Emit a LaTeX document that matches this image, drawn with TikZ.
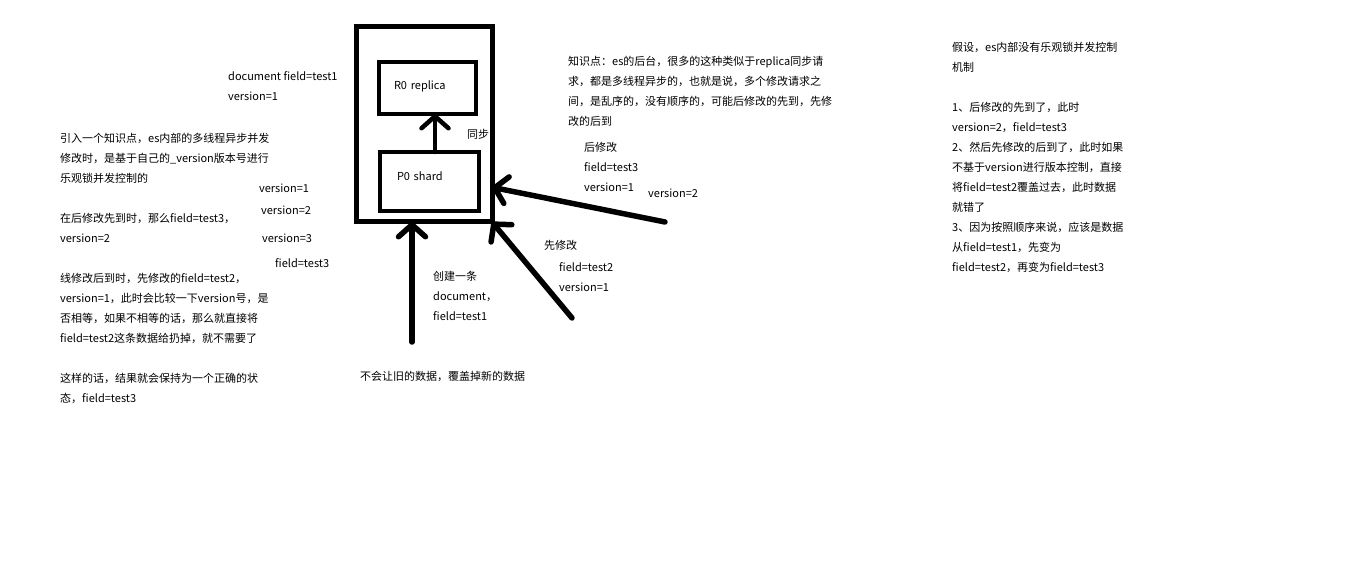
\documentclass[tikz,border=0pt]{standalone}
\usepackage{fontspec}
\setmainfont{Noto Sans CJK SC}
\usetikzlibrary{arrows.meta}

\begin{document}
\begin{tikzpicture}[x=1pt,y=-1pt,
  txt/.style={inner sep=0pt,align=left,font=\fontsize{11}{20}\selectfont},
  note/.style={txt,anchor=north west},
  word/.style={txt,anchor=base west},
  box/.style={draw,line width=4.5pt,outer sep=0pt,anchor=north west,align=left,font=\fontsize{11}{20}\selectfont},
  push/.style={line width=5.5pt,line cap=round,-{Straight Barb[length=12pt,width=27pt,round]}}]

  \useasboundingbox (0,0) rectangle (1360,561);

  \node[draw,line width=5pt,inner sep=0pt,outer sep=0pt,minimum width=135.5pt,minimum height=195.5pt,anchor=north west] (shard) at (356.5,26.5) {};
  \node[box,minimum height=52pt,inner xsep=15pt,text width=67pt,text depth=6.5pt] (r0) at (379,62) {R0 replica};
  \node[box,minimum height=59pt,inner xsep=17pt,text width=65pt,text depth=11pt] (p0) at (380,152) {P0 shard};

  \coordinate (sync up) at ([xshift=5.5pt]p0.north);
  \coordinate (create) at (412,342);
  \coordinate (first) at (572,318);
  \coordinate (second) at (665,222);

  \draw[push,line width=4.5pt] (sync up) -- (sync up |- r0.south);
  \draw[push] (create) -- (shard.south -| create);
  \draw[push] (first) -- (shard.south east);
  \draw[push] (second) -- ([yshift=-63pt]shard.east);

  \node[word] (sync) at (467,139) {同步};

  \node[note] (doc) at (228,71.5) {document field=test1\\version=1};
  \node[note] (intro) at (60,133.5) {引入一个知识点，es内部的多线程异步并发\\修改时，是基于自己的\_version版本号进行\\乐观锁并发控制的\\[20pt]在后修改先到时，那么field=test3，\\version=2\\[20pt]线修改后到时，先修改的field=test2，\\version=1，此时会比较一下version号，是\\否相等，如果不相等的话，那么就直接将\\field=test2这条数据给扔掉，就不需要了\\[20pt]这样的话，结果就会保持为一个正确的状\\态，field=test3};

  \node[word] (ver1) at (259,193) {version=1};
  \node[word] (ver2) at (261,215) {version=2};
  \node[word] (ver3) at (262,243) {version=3};
  \node[word] (val3) at (275,268) {field=test3};

  \node[note] (point) at (568,55.5) {知识点：es的后台，很多的这种类似于replica同步请\\求，都是多线程异步的，也就是说，多个修改请求之\\间，是乱序的，没有顺序的，可能后修改的先到，先修\\改的后到};

  \node[note] (later) at (584,142.5) {后修改\\field=test3\\version=1};
  \node[word] (laterver) at (648,198) {version=2};

  \node[word] (earlier) at (544,250) {先修改};
  \node[note] (earlierval) at (559,262.5) {field=test2\\version=1};

  \node[note] (created) at (433,271.5) {创建一条\\document，\\field=test1};
  \node[word] (rule) at (360,380) {不会让旧的数据，覆盖掉新的数据};

  \node[note] (assume) at (952,41.5) {假设，es内部没有乐观锁并发控制\\机制\\[20pt]1、后修改的先到了，此时\\version=2，field=test3\\2、然后先修改的后到了，此时如果\\不基于version进行版本控制，直接\\将field=test2覆盖过去，此时数据\\就错了\\3、因为按照顺序来说，应该是数据\\从field=test1，先变为\\field=test2，再变为field=test3};

\end{tikzpicture}
\end{document}
